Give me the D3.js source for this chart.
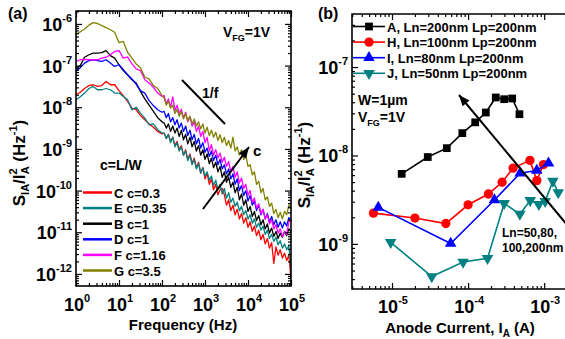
<!DOCTYPE html>
<html>
<head>
<meta charset="utf-8">
<script src="https://cdn.jsdelivr.net/npm/d3@7"></script>
<style>
body { margin: 0; background: #fff; }
svg { display: block; font-family: Arial, "Liberation Sans", sans-serif; font-weight: bold; }
</style>
</head>
<body>
<script>
// ---- panel (a): noise spectra, log10(S_IA/I_A^2) ----
var freqHz = [1,1.26,1.58,2,2.51,3.16,3.98,5.01,6.31,7.94,10,12.6,15.8,20,25.1,31.6,39.8,50.1,63.1,79.4,100,
  112,126,141,158,178,200,224,251,282,316,355,398,447,501,562,631,708,794,891,1000,
  1120,1260,1410,1580,1780,2000,2240,2510,2820,3160,3550,3980,4470,5010,5620,6310,7080,7940,8910,10000,
  11200,12600,14100,15800,17800,20000,22400,25100,28200,31600,35500,39800,44700,50100,56200,63100,70800,79400,89100,100000];

var specC = [-7.70,-7.64,-7.55,-7.48,-7.46,-7.50,-7.48,-7.38,-7.46,-7.46,-7.60,-7.72,-7.86,-8.02,-8.06,-8.20,-8.30,-8.40,-8.48,-8.58,-8.64,
  -8.62,-8.75,-8.65,-8.82,-8.72,-8.92,-8.82,-9.02,-8.92,-9.15,-9.02,-9.25,-9.12,-9.35,-9.22,-9.45,-9.32,-9.58,-9.45,-9.72,
  -9.58,-9.85,-9.72,-9.98,-9.85,-10.10,-9.98,-9.95,-10.10,-10.35,-10.22,-10.48,-10.35,-10.58,-10.45,-10.68,-10.55,-10.78,-10.65,-10.88,
  -10.75,-10.98,-10.85,-11.08,-10.95,-11.18,-11.05,-11.28,-11.15,-11.38,-11.25,-11.75,-11.35,-11.55,-11.42,-11.62,-11.50,-11.68,-11.55,-12.10];
var specE = [-7.82,-7.75,-7.66,-7.55,-7.50,-7.58,-7.58,-7.55,-7.58,-7.66,-7.66,-7.74,-7.82,-8.06,-8.00,-8.14,-8.26,-8.42,-8.40,-8.54,-8.62,
  -8.62,-8.75,-8.65,-8.85,-8.72,-8.95,-8.85,-9.05,-8.95,-9.15,-9.05,-9.28,-9.15,-9.38,-9.25,-9.48,-9.35,-9.58,-9.45,-9.65,
  -9.55,-9.75,-9.65,-9.88,-9.75,-9.98,-9.85,-10.08,-9.95,-10.18,-10.05,-10.28,-10.18,-10.38,-10.28,-10.48,-10.38,-10.58,-10.48,-10.68,
  -10.58,-10.78,-10.68,-10.88,-10.78,-10.95,-10.85,-11.05,-10.95,-11.15,-11.05,-11.22,-11.12,-11.30,-11.20,-11.38,-11.28,-11.42,-11.32,-11.90];
var specB = [-7.08,-7.00,-6.80,-6.74,-6.70,-6.70,-6.69,-6.64,-6.76,-6.82,-6.98,-7.12,-7.22,-7.34,-7.42,-7.62,-7.80,-7.95,-8.10,-8.25,-8.35,
  -8.38,-8.50,-8.40,-8.58,-8.45,-8.62,-8.50,-8.70,-8.55,-8.78,-8.65,-8.88,-8.72,-8.95,-8.82,-9.05,-8.92,-9.15,-9.02,-9.25,
  -9.12,-9.35,-9.22,-9.45,-9.32,-9.55,-9.42,-9.68,-9.55,-9.80,-9.68,-9.92,-9.80,-10.05,-9.92,-10.22,-10.08,-10.35,-10.22,-10.50,
  -10.38,-10.62,-10.50,-10.72,-10.60,-10.82,-10.70,-10.92,-10.80,-11.02,-10.90,-11.10,-10.98,-11.15,-11.02,-11.12,-10.98,-11.08,-10.92,-11.00];
var specD = [-7.14,-7.05,-6.94,-6.88,-6.86,-6.88,-6.90,-6.86,-6.94,-7.02,-6.98,-7.10,-7.22,-7.32,-7.45,-7.60,-7.66,-7.84,-7.96,-8.06,-8.12,
  -8.10,-8.25,-8.15,-8.35,-8.25,-8.42,-8.30,-8.50,-8.38,-8.58,-8.45,-8.68,-8.55,-8.78,-8.65,-8.88,-8.75,-8.98,-8.85,-9.08,
  -8.98,-9.18,-9.05,-9.28,-9.15,-9.38,-9.25,-9.48,-9.38,-9.60,-9.48,-9.72,-9.60,-9.85,-9.72,-10.00,-9.88,-10.12,-10.00,-10.25,
  -10.12,-10.35,-10.25,-10.48,-10.35,-10.58,-10.45,-10.68,-10.55,-10.75,-10.62,-10.82,-10.70,-10.88,-10.75,-10.90,-10.75,-10.85,-10.65,-10.72];
var specF = [-6.90,-6.86,-6.85,-6.86,-6.86,-6.86,-6.82,-6.80,-6.74,-6.66,-6.64,-6.82,-6.79,-6.96,-7.08,-7.12,-7.34,-7.42,-7.52,-7.66,-7.74,
  -7.72,-7.92,-7.80,-8.00,-7.75,-8.08,-7.95,-8.15,-8.05,-8.25,-8.12,-8.35,-8.22,-8.45,-8.35,-8.58,-8.45,-8.70,-8.58,-8.85,
  -8.72,-9.05,-8.90,-9.15,-9.02,-9.22,-9.10,-9.32,-9.20,-9.42,-9.30,-9.55,-9.42,-9.68,-9.55,-9.82,-9.70,-9.95,-9.85,-10.12,
  -10.00,-10.28,-10.18,-10.42,-10.32,-10.55,-10.45,-10.68,-10.58,-10.80,-10.70,-10.92,-10.82,-11.02,-10.92,-11.10,-10.98,-11.05,-10.75,-10.70];
var specG = [-6.25,-6.19,-6.12,-6.03,-5.97,-5.99,-6.04,-6.09,-6.14,-6.20,-6.45,-6.42,-6.68,-6.82,-6.96,-7.05,-7.28,-7.32,-7.48,-7.55,-7.72,
  -7.78,-7.95,-7.85,-8.02,-7.95,-8.15,-8.05,-8.22,-8.10,-8.28,-8.15,-8.32,-8.22,-8.40,-8.28,-8.45,-8.35,-8.52,-8.40,-8.62,
  -8.48,-8.68,-8.55,-8.72,-8.60,-8.80,-8.66,-8.85,-8.72,-8.92,-8.80,-8.98,-8.72,-9.05,-8.95,-9.15,-9.02,-9.25,-9.15,-9.42,
  -9.38,-9.62,-9.55,-9.85,-9.78,-10.05,-9.95,-10.22,-10.15,-10.38,-10.30,-10.55,-10.45,-10.65,-10.52,-10.68,-10.50,-10.58,-10.35,-10.45];

var specNames = ["C c=0.3", "E c=0.35", "B c=1", "D c=1", "F c=1.16", "G c=3.5"];
var specColors = ["#ff0000", "#008080", "#000000", "#0000ff", "#ff00ff", "#808000"];
var specLogs = [specC, specE, specB, specD, specF, specG];

// ---- panel (b): noise vs anode current ----
var curA = [1.34e-5, 2.95e-5, 5.25e-5, 8.4e-5, 1.24e-4, 1.71e-4, 2.31e-4, 2.98e-4, 3.8e-4, 4.73e-4];
var noiseA = [6.2e-9, 9.6e-9, 1.21e-8, 1.79e-8, 2.37e-8, 3.06e-8, 4.53e-8, 4.33e-8, 4.41e-8, 2.93e-8];
var curH = [5.7e-6, 2.0e-5, 5.1e-5, 1.0e-4, 1.85e-4, 2.8e-4, 3.9e-4, 6.5e-4, 8.0e-4, 9.8e-4];
var noiseH = [2.23e-9, 1.96e-9, 1.70e-9, 2.77e-9, 3.67e-9, 4.98e-9, 7.2e-9, 8.8e-9, 5.2e-9, 7.9e-9];
var curI = [6.6e-6, 5.9e-5, 2.22e-4, 4.83e-4, 8.0e-4, 1.14e-3];
var noiseI = [2.59e-9, 1.01e-9, 3.14e-9, 6.3e-9, 6.76e-9, 8.2e-9];
var curJ = [9.6e-6, 3.33e-5, 8.6e-5, 1.80e-4, 2.98e-4, 4.79e-4, 6.55e-4, 8.5e-4, 1.03e-3, 1.30e-3, 1.53e-3];
var noiseJ = [1.04e-9, 4.28e-10, 6.24e-10, 6.87e-10, 2.87e-9, 2.17e-9, 3.1e-9, 2.8e-9, 3.03e-9, 5.13e-9, 3.8e-9];

var devNames = ["A, Ln=200nm Lp=200nm", "H, Ln=100nm Lp=200nm", "I, Ln=80nm Lp=200nm", "J, Ln=50nm Lp=200nm"];
var devColors = ["#000000", "#ff0000", "#0000ff", "#008080"];
var devSymbols = ["square", "circle", "up", "down"];
var devCur = [curA, curH, curI, curJ];
var devNoise = [noiseA, noiseH, noiseI, noiseJ];

var svg = d3.select("body").append("svg")
    .attr("width", 565)
    .attr("height", 339);

var defs = svg.append("defs");
defs.append("clipPath").attr("id", "clipA")
    .append("rect").attr("x", 76).attr("y", 11).attr("width", 215).attr("height", 275);
defs.append("clipPath").attr("id", "clipB")
    .append("rect").attr("x", 352).attr("y", 14).attr("width", 215).attr("height", 275);

// decade and sub-decade tick values between two exponents
function decades(lo, hi){
    var out = [];
    for (var e=lo; e<=hi; e++) out.push(Math.pow(10, e));
    return out;
}
function subDecades(lo, hi){
    var out = [];
    for (var e=lo; e<=hi; e++){
        for (var m=2; m<=9; m++) out.push(m * Math.pow(10, e));
    }
    return out;
}

// ticks pointing into the plot
function inTicks(g, axisFn, scale, vals, size, tx, ty){
    g.append("g")
        .attr("transform", "translate(" + tx + "," + ty + ")")
        .call(axisFn(scale).tickValues(vals).tickSize(-size).tickFormat(""))
        .call(function(s){
            s.select(".domain").remove();
            s.selectAll("line").attr("stroke", "#000").attr("stroke-width", 1.2);
        });
}

function powLabel(g, x, y, exp, anchor){
    var t = g.append("text")
        .attr("x", x).attr("y", y)
        .attr("text-anchor", anchor)
        .style("font-size", "18px");
    t.append("tspan").text("10");
    t.append("tspan").attr("dy", -9).style("font-size", "11px").text(exp);
}

function yTitle(g, x, y){
    var t = g.append("text")
        .attr("transform", "translate(" + x + "," + y + ") rotate(-90)")
        .attr("text-anchor", "middle")
        .style("font-size", "17px");
    t.append("tspan").text("S");
    t.append("tspan").attr("dy", 4).style("font-size", "11px").text("IA");
    t.append("tspan").attr("dy", -4).text("/I");
    t.append("tspan").attr("dy", -8).style("font-size", "11px").text("2");
    t.append("tspan").attr("dx", -6).attr("dy", 12).style("font-size", "11px").text("A");
    t.append("tspan").attr("dy", -4).text(" (Hz");
    t.append("tspan").attr("dy", -8).style("font-size", "11px").text("-1");
    t.append("tspan").attr("dy", 8).text(")");
}

function arrow(g, x1, y1, x2, y2){
    g.append("line")
        .attr("x1", x1).attr("y1", y1).attr("x2", x2).attr("y2", y2)
        .attr("stroke", "#000").attr("stroke-width", 2);
    var ang = Math.atan2(y2 - y1, x2 - x1) * 180 / Math.PI;
    g.append("path")
        .attr("d", "M0,0L-11,-4.5L-11,4.5Z")
        .attr("transform", "translate(" + x2 + "," + y2 + ") rotate(" + ang + ")")
        .attr("fill", "#000");
}

// ================= panel (a) =================
var xA = d3.scaleLog().domain([1, 1e5]).range([76, 291]);
var yA = d3.scaleLog().domain([Math.pow(10, -12.29), Math.pow(10, -5.69)]).range([286, 11]);
var gA = svg.append("g");

var line = d3.line()
    .x(function(d){ return xA(d[0]); })
    .y(function(d){ return yA(d[1]); });

gA.append("g").attr("clip-path", "url(#clipA)")
    .selectAll(".spec")
    .data(specLogs)
    .enter()
    .append("path")
    .attr("class", "spec")
    .attr("fill", "none")
    .attr("stroke", function(d, i){ return specColors[i]; })
    .attr("stroke-width", 1.3)
    .attr("stroke-linejoin", "round")
    .attr("d", function(d){
        return line(d.map(function(v, k){ return [freqHz[k], Math.pow(10, v)]; }));
    });

gA.append("rect")
    .attr("x", 76).attr("y", 11).attr("width", 215).attr("height", 275)
    .attr("fill", "none").attr("stroke", "#000").attr("stroke-width", 1.6);

var xMajA = decades(0, 5), xMinA = subDecades(0, 4);
var yMajA = decades(-12, -6), yMinA = subDecades(-13, -6).filter(function(v){ return v > yA.domain()[0] && v < yA.domain()[1]; });
inTicks(gA, d3.axisBottom, xA, xMajA, 6, 0, 286);
inTicks(gA, d3.axisBottom, xA, xMinA, 3, 0, 286);
inTicks(gA, d3.axisTop, xA, xMajA, 6, 0, 11);
inTicks(gA, d3.axisTop, xA, xMinA, 3, 0, 11);
inTicks(gA, d3.axisLeft, yA, yMajA, 6, 76, 0);
inTicks(gA, d3.axisLeft, yA, yMinA, 3, 76, 0);
inTicks(gA, d3.axisRight, yA, yMajA, 6, 291, 0);
inTicks(gA, d3.axisRight, yA, yMinA, 3, 291, 0);

xMajA.forEach(function(v){ powLabel(gA, xA(v) + 1, 311, String(Math.round(Math.log10(v))), "middle"); });
yMajA.forEach(function(v){ powLabel(gA, 72, yA(v) + 7, String(Math.round(Math.log10(v))), "end"); });

gA.append("text").attr("x", 183).attr("y", 330).attr("text-anchor", "middle")
    .style("font-size", "15px").text("Frequency (Hz)");
yTitle(gA, 25, 163);

gA.append("text").attr("x", 8).attr("y", 19).style("font-size", "16px").text("(a)");
var vfgA = gA.append("text").attr("x", 223).attr("y", 37).style("font-size", "14px");
vfgA.append("tspan").text("V");
vfgA.append("tspan").attr("dy", 4).style("font-size", "9px").text("FG");
vfgA.append("tspan").attr("dy", -4).text("=1V");

gA.append("line").attr("x1", 182).attr("y1", 80).attr("x2", 225).attr("y2", 124)
    .attr("stroke", "#000").attr("stroke-width", 2);
gA.append("text").attr("x", 202).attr("y", 98).style("font-size", "14px").text("1/f");
arrow(gA, 203, 209, 249, 147);
gA.append("text").attr("x", 253).attr("y", 156).style("font-size", "15px").text("c");
gA.append("text").attr("x", 100).attr("y", 170).style("font-size", "14px").text("c=L/W");

var legA = gA.selectAll(".legA")
    .data(specNames)
    .enter()
    .append("g")
    .attr("class", "legA")
    .attr("transform", function(d, i){ return "translate(83," + (192.5 + i * 15.6) + ")"; });
legA.append("line").attr("x1", 0).attr("x2", 29)
    .attr("stroke", function(d, i){ return specColors[i]; })
    .attr("stroke-width", 2.5);
legA.append("text").attr("x", 31).attr("y", 5)
    .style("font-size", "13px").text(function(d){ return d; });

// ================= panel (b) =================
var xB = d3.scaleLog().domain([Math.pow(10, -5.526), Math.pow(10, -2.70)]).range([352, 567]);
var yB = d3.scaleLog().domain([Math.pow(10, -9.51), Math.pow(10, -6.4)]).range([289, 14]);
var gB = svg.append("g");

var xMajB = decades(-5, -3), xMinB = subDecades(-6, -3).filter(function(v){ return v > xB.domain()[0] && v < xB.domain()[1]; });
var yMajB = decades(-9, -7), yMinB = subDecades(-10, -7).filter(function(v){ return v > yB.domain()[0] && v < yB.domain()[1]; });
inTicks(gB, d3.axisBottom, xB, xMajB, 6, 0, 289);
inTicks(gB, d3.axisBottom, xB, xMinB, 3, 0, 289);
inTicks(gB, d3.axisTop, xB, xMajB, 6, 0, 14);
inTicks(gB, d3.axisTop, xB, xMinB, 3, 0, 14);
inTicks(gB, d3.axisLeft, yB, yMajB, 6, 352, 0);
inTicks(gB, d3.axisLeft, yB, yMinB, 3, 352, 0);

gB.append("path")
    .attr("d", "M567,14H352V289H567")
    .attr("fill", "none").attr("stroke", "#000").attr("stroke-width", 1.6);

var lineB = d3.line()
    .x(function(d){ return xB(d[0]); })
    .y(function(d){ return yB(d[1]); });

function symbolPath(kind){
    if (kind === "square") return d3.symbol().type(d3.symbolSquare).size(60)();
    if (kind === "circle") return d3.symbol().type(d3.symbolCircle).size(68)();
    return d3.symbol().type(d3.symbolTriangle).size(58)();
}
function symbolRot(kind){ return kind === "down" ? " rotate(180)" : ""; }

var plotB = gB.append("g").attr("clip-path", "url(#clipB)");
devCur.forEach(function(cur, i){
    var pts = cur.map(function(c, k){ return [c, devNoise[i][k]]; });
    plotB.append("path")
        .attr("d", lineB(pts))
        .attr("fill", "none")
        .attr("stroke", devColors[i])
        .attr("stroke-width", 1.6);
    plotB.selectAll(".m" + i)
        .data(pts)
        .enter()
        .append("path")
        .attr("class", "m" + i)
        .attr("d", symbolPath(devSymbols[i]))
        .attr("transform", function(d){ return "translate(" + xB(d[0]) + "," + yB(d[1]) + ")" + symbolRot(devSymbols[i]); })
        .attr("fill", devColors[i]);
});

xMajB.forEach(function(v){ powLabel(gB, xB(v) + 1, 313, String(Math.round(Math.log10(v))), "middle"); });
yMajB.forEach(function(v){ powLabel(gB, 348, yB(v) + 7, String(Math.round(Math.log10(v))), "end"); });

var xtB = gB.append("text").attr("x", 460).attr("y", 333).attr("text-anchor", "middle").style("font-size", "15px");
xtB.append("tspan").text("Anode Current, I");
xtB.append("tspan").attr("dy", 4).style("font-size", "10px").text("A");
xtB.append("tspan").attr("dy", -4).text(" (A)");
yTitle(gB, 310, 165);

gB.append("text").attr("x", 318).attr("y", 19).style("font-size", "16px").text("(b)");

var legB = gB.selectAll(".legB")
    .data(devNames)
    .enter()
    .append("g")
    .attr("class", "legB")
    .attr("transform", function(d, i){ return "translate(353," + (26.5 + i * 15.6) + ")"; });
legB.append("line").attr("x1", 0).attr("x2", 32)
    .attr("stroke", function(d, i){ return devColors[i]; })
    .attr("stroke-width", 1.6);
legB.append("path")
    .attr("d", function(d, i){ return symbolPath(devSymbols[i]); })
    .attr("transform", function(d, i){ return "translate(16,0)" + symbolRot(devSymbols[i]); })
    .attr("fill", function(d, i){ return devColors[i]; });
legB.append("text").attr("x", 34).attr("y", 5)
    .style("font-size", "13px").text(function(d){ return d; });

gB.append("text").attr("x", 358).attr("y", 105).style("font-size", "14px").text("W=1\u00b5m");
var vfgB = gB.append("text").attr("x", 358).attr("y", 122).style("font-size", "14px");
vfgB.append("tspan").text("V");
vfgB.append("tspan").attr("dy", 4).style("font-size", "9px").text("FG");
vfgB.append("tspan").attr("dy", -4).text("=1V");

arrow(gB, 578, 238, 459, 95);

gB.append("text").attr("x", 502).attr("y", 237).style("font-size", "12px").text("Ln=50,80,");
gB.append("text").attr("x", 502).attr("y", 252).style("font-size", "12px").text("100,200nm");
</script>
</body>
</html>
